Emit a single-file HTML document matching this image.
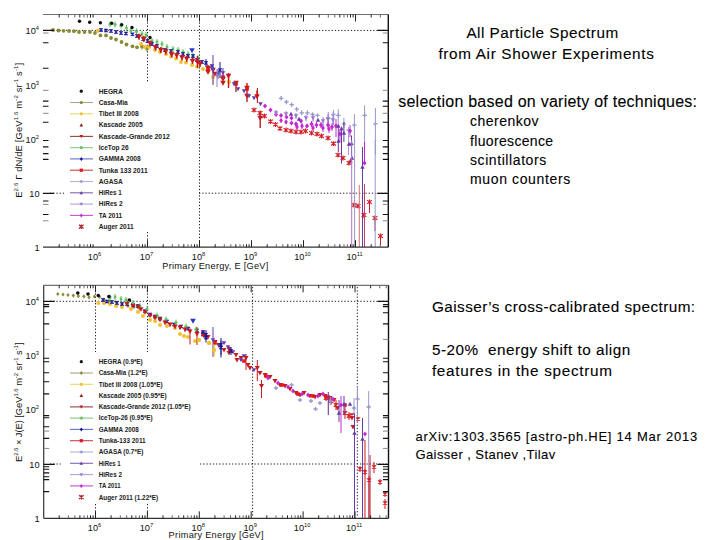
<!DOCTYPE html>
<html><head><meta charset="utf-8"><style>
html,body{margin:0;padding:0;width:720px;height:540px;overflow:hidden;background:#fff}
svg{position:absolute;left:0;top:0}
</style></head><body>
<svg width="720" height="540" viewBox="0 0 720 540" font-family="Liberation Sans, sans-serif">
<defs><filter id="b" x="-5%" y="-5%" width="110%" height="110%"><feGaussianBlur stdDeviation="0.3"/></filter></defs>
<g><path d="M50.0 30.4H386.0" stroke="#222" stroke-width="1" stroke-dasharray="1.3 1.9"/><path d="M50.0 193.2H65.0" stroke="#222" stroke-width="1" stroke-dasharray="1.3 1.9"/><path d="M199.0 193.2H386.0" stroke="#222" stroke-width="1" stroke-dasharray="1.3 1.9"/><path d="M147.5 16.0V83.0" stroke="#222" stroke-width="1" stroke-dasharray="1.3 1.9"/><path d="M147.5 232.0V246.0" stroke="#222" stroke-width="1" stroke-dasharray="1.3 1.9"/><path d="M199.5 16.0V246.0" stroke="#222" stroke-width="1" stroke-dasharray="1.3 1.9"/><path d="M50.0 301.3H387.0" stroke="#222" stroke-width="1" stroke-dasharray="1.3 1.9"/><path d="M50.0 464.0H62.0" stroke="#222" stroke-width="1" stroke-dasharray="1.3 1.9"/><path d="M200.0 464.0H387.0" stroke="#222" stroke-width="1" stroke-dasharray="1.3 1.9"/><path d="M95.5 287.0V352.0" stroke="#222" stroke-width="1" stroke-dasharray="1.3 1.9"/><path d="M95.5 504.0V516.0" stroke="#222" stroke-width="1" stroke-dasharray="1.3 1.9"/><path d="M147.5 287.0V352.0" stroke="#222" stroke-width="1" stroke-dasharray="1.3 1.9"/><path d="M147.5 504.0V516.0" stroke="#222" stroke-width="1" stroke-dasharray="1.3 1.9"/><path d="M252.6 287.0V516.0" stroke="#222" stroke-width="1" stroke-dasharray="1.3 1.9"/><path d="M357.3 287.0V516.0" stroke="#222" stroke-width="1" stroke-dasharray="1.3 1.9"/></g>
<g filter="url(#b)"><circle cx="53.0" cy="30.0" r="1.90" fill="#8a8a38"/><circle cx="58.5" cy="30.5" r="1.90" fill="#8a8a38"/><circle cx="63.5" cy="30.8" r="1.90" fill="#8a8a38"/><circle cx="69.0" cy="31.0" r="1.90" fill="#8a8a38"/><circle cx="74.0" cy="31.2" r="1.90" fill="#8a8a38"/><circle cx="79.0" cy="32.0" r="1.90" fill="#8a8a38"/><circle cx="84.5" cy="32.0" r="1.90" fill="#8a8a38"/><circle cx="90.0" cy="32.0" r="1.90" fill="#8a8a38"/><circle cx="95.0" cy="33.0" r="1.90" fill="#8a8a38"/><circle cx="100.4" cy="35.4" r="1.90" fill="#8a8a38"/><circle cx="106.0" cy="35.4" r="1.90" fill="#8a8a38"/><circle cx="111.0" cy="38.0" r="1.90" fill="#8a8a38"/><circle cx="116.0" cy="39.5" r="1.90" fill="#8a8a38"/><circle cx="121.5" cy="42.0" r="1.90" fill="#8a8a38"/><circle cx="126.5" cy="44.5" r="1.90" fill="#8a8a38"/><circle cx="132.5" cy="46.3" r="1.90" fill="#8a8a38"/><circle cx="137.0" cy="47.3" r="1.90" fill="#8a8a38"/><path d="M142.0 43.5V49.5" stroke="#8a8a38" stroke-width="1.0" fill="none"/><circle cx="142.0" cy="46.5" r="1.90" fill="#8a8a38"/><path d="M147.0 45.5V51.5" stroke="#8a8a38" stroke-width="1.0" fill="none"/><circle cx="147.0" cy="48.5" r="1.90" fill="#8a8a38"/><circle cx="97.8" cy="30.8" r="2.00" fill="#f2c030"/><circle cx="141.0" cy="44.0" r="2.00" fill="#f2c030"/><circle cx="145.0" cy="47.0" r="2.00" fill="#f2c030"/><circle cx="149.0" cy="47.0" r="2.00" fill="#f2c030"/><circle cx="155.0" cy="50.0" r="2.00" fill="#f2c030"/><circle cx="160.0" cy="52.0" r="2.00" fill="#f2c030"/><circle cx="166.0" cy="54.0" r="2.00" fill="#f2c030"/><circle cx="171.0" cy="56.5" r="2.00" fill="#f2c030"/><circle cx="176.0" cy="58.5" r="2.00" fill="#f2c030"/><circle cx="181.0" cy="62.0" r="2.00" fill="#f2c030"/><circle cx="186.0" cy="62.5" r="2.00" fill="#f2c030"/><circle cx="192.0" cy="65.0" r="2.00" fill="#f2c030"/><circle cx="197.0" cy="66.5" r="2.00" fill="#f2c030"/><circle cx="203.0" cy="69.0" r="2.00" fill="#f2c030"/><circle cx="208.0" cy="71.0" r="2.00" fill="#f2c030"/><path d="M213.0 70.0V84.0" stroke="#f2c030" stroke-width="1.0" fill="none"/><circle cx="213.0" cy="77.0" r="2.00" fill="#f2c030"/><path d="M229.0 78.0V86.0" stroke="#f2c030" stroke-width="1.0" fill="none"/><circle cx="229.0" cy="82.0" r="2.00" fill="#f2c030"/><path d="M110.0 21.2V27.2" stroke="#60c060" stroke-width="1.0" fill="none"/><path d="M108.4 24.2H111.6M110.0 22.6V25.8M108.8 23.0L111.2 25.4M108.8 25.4L111.2 23.0" stroke="#60c060" stroke-width="1.0" fill="none"/><path d="M115.0 21.5V27.5" stroke="#60c060" stroke-width="1.0" fill="none"/><path d="M113.4 24.5H116.6M115.0 22.9V26.1M113.8 23.3L116.2 25.7M113.8 25.7L116.2 23.3" stroke="#60c060" stroke-width="1.0" fill="none"/><path d="M121.0 22.5V28.5" stroke="#60c060" stroke-width="1.0" fill="none"/><path d="M119.4 25.5H122.6M121.0 23.9V27.1M119.8 24.3L122.2 26.7M119.8 26.7L122.2 24.3" stroke="#60c060" stroke-width="1.0" fill="none"/><path d="M126.5 25.0V31.0" stroke="#60c060" stroke-width="1.0" fill="none"/><path d="M124.9 28.0H128.1M126.5 26.4V29.6M125.3 26.8L127.7 29.2M125.3 29.2L127.7 26.8" stroke="#60c060" stroke-width="1.0" fill="none"/><path d="M131.0 27.8V33.8" stroke="#60c060" stroke-width="1.0" fill="none"/><path d="M129.4 30.8H132.6M131.0 29.2V32.4M129.8 29.6L132.2 32.0M129.8 32.0L132.2 29.6" stroke="#60c060" stroke-width="1.0" fill="none"/><path d="M136.5 28.5V34.5" stroke="#60c060" stroke-width="1.0" fill="none"/><path d="M134.9 31.5H138.1M136.5 29.9V33.1M135.3 30.3L137.7 32.7M135.3 32.7L137.7 30.3" stroke="#60c060" stroke-width="1.0" fill="none"/><path d="M142.0 31.0V37.0" stroke="#60c060" stroke-width="1.0" fill="none"/><path d="M140.4 34.0H143.6M142.0 32.4V35.6M140.8 32.8L143.2 35.2M140.8 35.2L143.2 32.8" stroke="#60c060" stroke-width="1.0" fill="none"/><path d="M146.0 32.0V38.0" stroke="#60c060" stroke-width="1.0" fill="none"/><path d="M144.4 35.0H147.6M146.0 33.4V36.6M144.8 33.8L147.2 36.2M144.8 36.2L147.2 33.8" stroke="#60c060" stroke-width="1.0" fill="none"/><path d="M152.0 38.0V44.0" stroke="#60c060" stroke-width="1.0" fill="none"/><path d="M150.4 41.0H153.6M152.0 39.4V42.6M150.8 39.8L153.2 42.2M150.8 42.2L153.2 39.8" stroke="#60c060" stroke-width="1.0" fill="none"/><path d="M157.0 39.0V45.0" stroke="#60c060" stroke-width="1.0" fill="none"/><path d="M155.4 42.0H158.6M157.0 40.4V43.6M155.8 40.8L158.2 43.2M155.8 43.2L158.2 40.8" stroke="#60c060" stroke-width="1.0" fill="none"/><path d="M162.0 41.0V47.0" stroke="#60c060" stroke-width="1.0" fill="none"/><path d="M160.4 44.0H163.6M162.0 42.4V45.6M160.8 42.8L163.2 45.2M160.8 45.2L163.2 42.8" stroke="#60c060" stroke-width="1.0" fill="none"/><path d="M167.0 44.0V50.0" stroke="#60c060" stroke-width="1.0" fill="none"/><path d="M165.4 47.0H168.6M167.0 45.4V48.6M165.8 45.8L168.2 48.2M165.8 48.2L168.2 45.8" stroke="#60c060" stroke-width="1.0" fill="none"/><path d="M173.0 46.0V52.0" stroke="#60c060" stroke-width="1.0" fill="none"/><path d="M171.4 49.0H174.6M173.0 47.4V50.6M171.8 47.8L174.2 50.2M171.8 50.2L174.2 47.8" stroke="#60c060" stroke-width="1.0" fill="none"/><path d="M178.0 47.0V53.0" stroke="#60c060" stroke-width="1.0" fill="none"/><path d="M176.4 50.0H179.6M178.0 48.4V51.6M176.8 48.8L179.2 51.2M176.8 51.2L179.2 48.8" stroke="#60c060" stroke-width="1.0" fill="none"/><path d="M183.0 49.0V55.0" stroke="#60c060" stroke-width="1.0" fill="none"/><path d="M181.4 52.0H184.6M183.0 50.4V53.6M181.8 50.8L184.2 53.2M181.8 53.2L184.2 50.8" stroke="#60c060" stroke-width="1.0" fill="none"/><path d="M188.0 51.0V57.0" stroke="#60c060" stroke-width="1.0" fill="none"/><path d="M186.4 54.0H189.6M188.0 52.4V55.6M186.8 52.8L189.2 55.2M186.8 55.2L189.2 52.8" stroke="#60c060" stroke-width="1.0" fill="none"/><path d="M193.0 53.0V59.0" stroke="#60c060" stroke-width="1.0" fill="none"/><path d="M191.4 56.0H194.6M193.0 54.4V57.6M191.8 54.8L194.2 57.2M191.8 57.2L194.2 54.8" stroke="#60c060" stroke-width="1.0" fill="none"/><path d="M198.0 55.0V61.0" stroke="#60c060" stroke-width="1.0" fill="none"/><path d="M196.4 58.0H199.6M198.0 56.4V59.6M196.8 56.8L199.2 59.2M196.8 59.2L199.2 56.8" stroke="#60c060" stroke-width="1.0" fill="none"/><path d="M99.2 28.6H102.8L99.2 31.4H102.8Z" fill="#1a1a96" stroke="#1a1a96" stroke-width="0.7"/><path d="M104.2 29.1H107.8L104.2 31.9H107.8Z" fill="#1a1a96" stroke="#1a1a96" stroke-width="0.7"/><path d="M109.2 29.6H112.8L109.2 32.4H112.8Z" fill="#1a1a96" stroke="#1a1a96" stroke-width="0.7"/><path d="M114.2 30.6H117.8L114.2 33.4H117.8Z" fill="#1a1a96" stroke="#1a1a96" stroke-width="0.7"/><path d="M119.2 31.6H122.8L119.2 34.4H122.8Z" fill="#1a1a96" stroke="#1a1a96" stroke-width="0.7"/><path d="M124.2 32.1H127.8L124.2 34.9H127.8Z" fill="#1a1a96" stroke="#1a1a96" stroke-width="0.7"/><path d="M130.7 32.9H134.3L130.7 35.6H134.3Z" fill="#1a1a96" stroke="#1a1a96" stroke-width="0.7"/><path d="M135.2 34.6H138.8L135.2 37.4H138.8Z" fill="#1a1a96" stroke="#1a1a96" stroke-width="0.7"/><path d="M141.5 37.9H145.1L141.5 40.6H145.1Z" fill="#1a1a96" stroke="#1a1a96" stroke-width="0.7"/><path d="M145.7 39.6H149.3L145.7 42.4H149.3Z" fill="#1a1a96" stroke="#1a1a96" stroke-width="0.7"/><path d="M150.2 42.6H153.8L150.2 45.4H153.8Z" fill="#1a1a96" stroke="#1a1a96" stroke-width="0.7"/><path d="M155.2 44.6H158.8L155.2 47.4H158.8Z" fill="#1a1a96" stroke="#1a1a96" stroke-width="0.7"/><path d="M163.2 48.6H166.8L163.2 51.4H166.8Z" fill="#1a1a96" stroke="#1a1a96" stroke-width="0.7"/><path d="M169.2 49.6H172.8L169.2 52.4H172.8Z" fill="#1a1a96" stroke="#1a1a96" stroke-width="0.7"/><path d="M176.2 50.6H179.8L176.2 53.4H179.8Z" fill="#1a1a96" stroke="#1a1a96" stroke-width="0.7"/><path d="M181.2 52.6H184.8L181.2 55.4H184.8Z" fill="#1a1a96" stroke="#1a1a96" stroke-width="0.7"/><path d="M186.2 54.6H189.8L186.2 57.4H189.8Z" fill="#1a1a96" stroke="#1a1a96" stroke-width="0.7"/><path d="M191.2 54.6H194.8L191.2 57.4H194.8Z" fill="#1a1a96" stroke="#1a1a96" stroke-width="0.7"/><path d="M195.2 58.6H198.8L195.2 61.4H198.8Z" fill="#1a1a96" stroke="#1a1a96" stroke-width="0.7"/><path d="M200.2 60.6H203.8L200.2 63.4H203.8Z" fill="#1a1a96" stroke="#1a1a96" stroke-width="0.7"/><path d="M206.0 59.0V67.0" stroke="#1a1a96" stroke-width="1.0" fill="none"/><path d="M204.2 61.6H207.8L204.2 64.3H207.8Z" fill="#1a1a96" stroke="#1a1a96" stroke-width="0.7"/><path d="M210.2 64.7H213.8L210.2 67.3H213.8Z" fill="#1a1a96" stroke="#1a1a96" stroke-width="0.7"/><path d="M220.0 62.0V78.0" stroke="#1a1a96" stroke-width="1.0" fill="none"/><path d="M218.2 68.7H221.8L218.2 71.3H221.8Z" fill="#1a1a96" stroke="#1a1a96" stroke-width="0.7"/><path d="M139.0 33.7V39.7" stroke="#c41a1e" stroke-width="1.4" fill="none"/><path d="M139.0 39.5L141.8 34.5L136.2 34.5Z" fill="#c41a1e"/><path d="M143.8 36.0V42.0" stroke="#c41a1e" stroke-width="1.4" fill="none"/><path d="M143.8 41.8L146.6 36.8L141.0 36.8Z" fill="#c41a1e"/><path d="M150.0 40.5V46.5" stroke="#c41a1e" stroke-width="1.4" fill="none"/><path d="M150.0 46.3L152.8 41.3L147.2 41.3Z" fill="#c41a1e"/><path d="M155.5 44.5V50.5" stroke="#c41a1e" stroke-width="1.4" fill="none"/><path d="M155.5 50.3L158.3 45.3L152.7 45.3Z" fill="#c41a1e"/><path d="M160.8 47.0V53.0" stroke="#c41a1e" stroke-width="1.4" fill="none"/><path d="M160.8 52.8L163.6 47.8L158.0 47.8Z" fill="#c41a1e"/><path d="M165.8 48.5V54.5" stroke="#c41a1e" stroke-width="1.4" fill="none"/><path d="M165.8 54.3L168.6 49.3L163.0 49.3Z" fill="#c41a1e"/><path d="M171.7 51.5V57.5" stroke="#c41a1e" stroke-width="1.4" fill="none"/><path d="M171.7 57.3L174.5 52.3L168.9 52.3Z" fill="#c41a1e"/><path d="M176.7 52.5V58.5" stroke="#c41a1e" stroke-width="1.4" fill="none"/><path d="M176.7 58.3L179.5 53.3L173.9 53.3Z" fill="#c41a1e"/><path d="M182.0 54.5V60.5" stroke="#c41a1e" stroke-width="1.4" fill="none"/><path d="M182.0 60.3L184.8 55.3L179.2 55.3Z" fill="#c41a1e"/><path d="M186.7 55.7V61.7" stroke="#c41a1e" stroke-width="1.4" fill="none"/><path d="M186.7 61.5L189.5 56.5L183.9 56.5Z" fill="#c41a1e"/><path d="M192.5 58.0V64.0" stroke="#c41a1e" stroke-width="1.4" fill="none"/><path d="M192.5 63.8L195.3 58.8L189.7 58.8Z" fill="#c41a1e"/><path d="M197.5 56.0V68.0" stroke="#c41a1e" stroke-width="1.4" fill="none"/><path d="M197.5 64.8L200.3 59.8L194.7 59.8Z" fill="#c41a1e"/><path d="M200.0 61.0V67.0" stroke="#c41a1e" stroke-width="1.4" fill="none"/><path d="M200.0 66.8L202.8 61.8L197.2 61.8Z" fill="#c41a1e"/><path d="M208.0 65.0V71.0" stroke="#c41a1e" stroke-width="1.4" fill="none"/><path d="M208.0 70.8L210.8 65.8L205.2 65.8Z" fill="#c41a1e"/><path d="M208.0 74.8L210.8 69.8L205.2 69.8Z" fill="#c41a1e"/><path d="M213.0 72.8L215.8 67.8L210.2 67.8Z" fill="#c41a1e"/><path d="M215.0 76.8L217.8 71.8L212.2 71.8Z" fill="#c41a1e"/><path d="M223.0 81.8L225.8 76.8L220.2 76.8Z" fill="#c41a1e"/><path d="M223.0 85.8L225.8 80.8L220.2 80.8Z" fill="#c41a1e"/><path d="M228.5 73.0V88.0" stroke="#c41a1e" stroke-width="1.4" fill="none"/><path d="M228.5 78.8L231.3 73.8L225.7 73.8Z" fill="#c41a1e"/><path d="M236.0 81.0V92.0" stroke="#c41a1e" stroke-width="1.4" fill="none"/><path d="M236.0 85.8L238.8 80.8L233.2 80.8Z" fill="#c41a1e"/><path d="M247.0 83.0V102.0" stroke="#c41a1e" stroke-width="1.4" fill="none"/><path d="M247.0 90.8L249.8 85.8L244.2 85.8Z" fill="#c41a1e"/><path d="M247.0 98.8L249.8 93.8L244.2 93.8Z" fill="#c41a1e"/><path d="M257.0 90.5V96.5" stroke="#c41a1e" stroke-width="1.4" fill="none"/><path d="M257.0 99.3L259.8 94.3L254.2 94.3Z" fill="#c41a1e"/><path d="M260.2 111.0V128.0" stroke="#c41a1e" stroke-width="1.4" fill="none"/><path d="M260.2 120.8L263.0 115.8L257.4 115.8Z" fill="#c41a1e"/><rect x="206.2" y="67.2" width="3.6" height="3.6" fill="#d81c1c"/><rect x="221.2" y="75.2" width="3.6" height="3.6" fill="#d81c1c"/><rect x="234.2" y="82.2" width="3.6" height="3.6" fill="#d81c1c"/><rect x="245.2" y="87.2" width="3.6" height="3.6" fill="#d81c1c"/><path d="M192.0 53.3L194.8 48.3L189.2 48.3Z" fill="#2838c8"/><circle cx="79.5" cy="21.2" r="1.70" fill="#111"/><circle cx="89.7" cy="22.2" r="1.70" fill="#111"/><circle cx="100.4" cy="22.7" r="1.70" fill="#111"/><circle cx="111.7" cy="23.3" r="1.70" fill="#111"/><circle cx="121.7" cy="24.8" r="1.70" fill="#111"/><circle cx="132.0" cy="27.5" r="1.70" fill="#111"/><circle cx="150.0" cy="37.5" r="1.70" fill="#111"/><path d="M213.0 55.0V85.0" stroke="#6a3aa8" stroke-width="1.0" fill="none"/><path d="M213.0 72.2L215.2 68.3L210.8 68.3Z" fill="#6a3aa8"/><path d="M218.0 69.0V79.0" stroke="#6a3aa8" stroke-width="1.0" fill="none"/><path d="M218.0 76.2L220.2 72.3L215.8 72.3Z" fill="#6a3aa8"/><path d="M223.0 68.0V78.0" stroke="#6a3aa8" stroke-width="1.0" fill="none"/><path d="M223.0 75.2L225.2 71.3L220.8 71.3Z" fill="#6a3aa8"/><path d="M234.0 86.2L236.2 82.3L231.8 82.3Z" fill="#6a3aa8"/><path d="M238.0 91.2L240.2 87.3L235.8 87.3Z" fill="#6a3aa8"/><path d="M244.0 93.2L246.2 89.3L241.8 89.3Z" fill="#6a3aa8"/><path d="M249.0 98.2L251.2 94.3L246.8 94.3Z" fill="#6a3aa8"/><path d="M254.0 100.2L256.2 96.3L251.8 96.3Z" fill="#6a3aa8"/><path d="M260.5 106.2L262.7 102.3L258.3 102.3Z" fill="#6a3aa8"/><path d="M217.0 69.0V87.0" stroke="#9c78d0" stroke-width="1.0" fill="none"/><path d="M217.0 72.8L218.8 75.0L217.0 77.2L215.2 75.0Z" fill="#9c78d0"/><path d="M257.4 88.0V103.0" stroke="#c41a1e" stroke-width="1.1" fill="none"/><path d="M278.9 98.3H283.3M281.1 96.1V100.5" stroke="#9898cc" stroke-width="1.3" fill="none"/><path d="M284.2 102.0H288.6M286.4 99.8V104.2" stroke="#9898cc" stroke-width="1.3" fill="none"/><path d="M289.5 104.7H293.9M291.7 102.5V106.9" stroke="#9898cc" stroke-width="1.3" fill="none"/><path d="M294.5 109.2H298.9M296.7 107.0V111.4" stroke="#9898cc" stroke-width="1.3" fill="none"/><path d="M299.5 112.8H303.9M301.7 110.6V115.0" stroke="#9898cc" stroke-width="1.3" fill="none"/><path d="M305.2 112.8H309.6M307.4 110.6V115.0" stroke="#9898cc" stroke-width="1.3" fill="none"/><path d="M310.3 114.4H314.7M312.5 112.2V116.6" stroke="#9898cc" stroke-width="1.3" fill="none"/><path d="M315.3 115.4H319.7M317.5 113.2V117.6" stroke="#9898cc" stroke-width="1.3" fill="none"/><path d="M328.3 112.0V125.0" stroke="#9898cc" stroke-width="1.0" fill="none"/><path d="M326.1 118.5H330.5M328.3 116.3V120.7" stroke="#9898cc" stroke-width="1.3" fill="none"/><path d="M333.4 110.0V125.0" stroke="#9898cc" stroke-width="1.0" fill="none"/><path d="M331.2 114.5H335.6M333.4 112.3V116.7" stroke="#9898cc" stroke-width="1.3" fill="none"/><path d="M338.3 109.3V125.3" stroke="#9898cc" stroke-width="1.0" fill="none"/><path d="M336.1 115.3H340.5M338.3 113.1V117.5" stroke="#9898cc" stroke-width="1.3" fill="none"/><path d="M343.9 117.9V127.9" stroke="#9898cc" stroke-width="1.0" fill="none"/><path d="M341.7 123.9H346.1M343.9 121.7V126.1" stroke="#9898cc" stroke-width="1.3" fill="none"/><path d="M348.6 127.0V155.0" stroke="#9898cc" stroke-width="1.0" fill="none"/><path d="M346.4 130.0H350.8M348.6 127.8V132.2" stroke="#9898cc" stroke-width="1.3" fill="none"/><path d="M354.4 114.2V145.2" stroke="#9898cc" stroke-width="1.0" fill="none"/><path d="M352.2 125.2H356.6M354.4 123.0V127.4" stroke="#9898cc" stroke-width="1.3" fill="none"/><path d="M364.6 105.3V150.3" stroke="#9898cc" stroke-width="1.0" fill="none"/><path d="M362.4 115.3H366.8M364.6 113.1V117.5" stroke="#9898cc" stroke-width="1.3" fill="none"/><path d="M375.4 107.9V154.9" stroke="#9898cc" stroke-width="1.0" fill="none"/><path d="M373.2 123.9H377.6M375.4 121.7V126.1" stroke="#9898cc" stroke-width="1.3" fill="none"/><path d="M265.0 103.4L267.1 106.0L265.0 108.6L262.9 106.0Z" fill="#c828d0"/><path d="M270.5 107.4L272.6 110.0L270.5 112.6L268.4 110.0Z" fill="#c828d0"/><path d="M276.0 111.9L278.1 114.5L276.0 117.1L273.9 114.5Z" fill="#c828d0"/><path d="M281.0 112.9L283.1 115.5L281.0 118.1L278.9 115.5Z" fill="#c828d0"/><path d="M286.5 114.4L288.6 117.0L286.5 119.6L284.4 117.0Z" fill="#c828d0"/><path d="M291.5 115.4L293.6 118.0L291.5 120.6L289.4 118.0Z" fill="#c828d0"/><path d="M291.5 120.4L293.6 123.0L291.5 125.6L289.4 123.0Z" fill="#c828d0"/><path d="M296.0 122.0V126.0" stroke="#c828d0" stroke-width="1.0" fill="none"/><path d="M296.0 121.4L298.1 124.0L296.0 126.6L293.9 124.0Z" fill="#c828d0"/><path d="M301.0 119.0V123.0" stroke="#c828d0" stroke-width="1.0" fill="none"/><path d="M301.0 118.4L303.1 121.0L301.0 123.6L298.9 121.0Z" fill="#c828d0"/><path d="M307.0 124.0V128.0" stroke="#c828d0" stroke-width="1.0" fill="none"/><path d="M307.0 123.4L309.1 126.0L307.0 128.6L304.9 126.0Z" fill="#c828d0"/><path d="M311.5 121.0V127.0" stroke="#c828d0" stroke-width="1.0" fill="none"/><path d="M311.5 121.4L313.6 124.0L311.5 126.6L309.4 124.0Z" fill="#c828d0"/><path d="M316.5 122.0V128.0" stroke="#c828d0" stroke-width="1.0" fill="none"/><path d="M316.5 122.4L318.6 125.0L316.5 127.6L314.4 125.0Z" fill="#c828d0"/><path d="M321.0 122.0V128.0" stroke="#c828d0" stroke-width="1.0" fill="none"/><path d="M321.0 122.4L323.1 125.0L321.0 127.6L318.9 125.0Z" fill="#c828d0"/><path d="M328.0 121.0V129.0" stroke="#c828d0" stroke-width="1.0" fill="none"/><path d="M328.0 122.4L330.1 125.0L328.0 127.6L325.9 125.0Z" fill="#c828d0"/><path d="M332.0 123.0V131.0" stroke="#c828d0" stroke-width="1.0" fill="none"/><path d="M332.0 124.4L334.1 127.0L332.0 129.6L329.9 127.0Z" fill="#c828d0"/><path d="M336.0 119.0V137.0" stroke="#c828d0" stroke-width="1.0" fill="none"/><path d="M336.0 123.4L338.1 126.0L336.0 128.6L333.9 126.0Z" fill="#c828d0"/><path d="M340.0 129.0V142.0" stroke="#c828d0" stroke-width="1.0" fill="none"/><path d="M340.0 131.4L342.1 134.0L340.0 136.6L337.9 134.0Z" fill="#c828d0"/><path d="M350.0 125.0V137.0" stroke="#c828d0" stroke-width="1.0" fill="none"/><path d="M350.0 128.4L352.1 131.0L350.0 133.6L347.9 131.0Z" fill="#c828d0"/><path d="M364.5 142.0V163.0" stroke="#c828d0" stroke-width="1.0" fill="none"/><path d="M364.5 160.4L366.6 163.0L364.5 165.6L362.4 163.0Z" fill="#c828d0"/><path d="M281.0 118.5V122.5" stroke="#c828d0" stroke-width="1.0" fill="none"/><path d="M281.0 118.1L282.9 120.5L281.0 122.9L279.1 120.5Z" fill="#c828d0"/><path d="M286.0 120.0V124.0" stroke="#c828d0" stroke-width="1.0" fill="none"/><path d="M286.0 119.6L287.9 122.0L286.0 124.4L284.1 122.0Z" fill="#c828d0"/><path d="M297.0 124.0V130.0" stroke="#c828d0" stroke-width="1.0" fill="none"/><path d="M297.0 124.6L298.9 127.0L297.0 129.4L295.1 127.0Z" fill="#c828d0"/><path d="M302.0 123.0V129.0" stroke="#c828d0" stroke-width="1.0" fill="none"/><path d="M302.0 123.6L303.9 126.0L302.0 128.4L300.1 126.0Z" fill="#c828d0"/><path d="M313.0 125.0V131.0" stroke="#c828d0" stroke-width="1.0" fill="none"/><path d="M313.0 125.6L314.9 128.0L313.0 130.4L311.1 128.0Z" fill="#c828d0"/><path d="M323.0 124.0V132.0" stroke="#c828d0" stroke-width="1.0" fill="none"/><path d="M323.0 125.6L324.9 128.0L323.0 130.4L321.1 128.0Z" fill="#c828d0"/><path d="M329.0 125.0V133.0" stroke="#c828d0" stroke-width="1.0" fill="none"/><path d="M329.0 126.6L330.9 129.0L329.0 131.4L327.1 129.0Z" fill="#c828d0"/><path d="M276.0 110.0V116.0" stroke="#9c78d0" stroke-width="1.0" fill="none"/><path d="M276.0 115.2L278.2 111.3L273.8 111.3Z" fill="#9c78d0"/><path d="M286.0 111.0V117.0" stroke="#9c78d0" stroke-width="1.0" fill="none"/><path d="M286.0 116.2L288.2 112.3L283.8 112.3Z" fill="#9c78d0"/><path d="M296.0 113.0V119.0" stroke="#9c78d0" stroke-width="1.0" fill="none"/><path d="M296.0 118.2L298.2 114.3L293.8 114.3Z" fill="#9c78d0"/><path d="M306.0 115.0V121.0" stroke="#9c78d0" stroke-width="1.0" fill="none"/><path d="M306.0 120.2L308.2 116.3L303.8 116.3Z" fill="#9c78d0"/><path d="M313.0 114.0V122.0" stroke="#9c78d0" stroke-width="1.0" fill="none"/><path d="M313.0 120.2L315.2 116.3L310.8 116.3Z" fill="#9c78d0"/><path d="M323.0 117.0V125.0" stroke="#9c78d0" stroke-width="1.0" fill="none"/><path d="M323.0 123.2L325.2 119.3L320.8 119.3Z" fill="#9c78d0"/><path d="M328.0 114.0V124.0" stroke="#9c78d0" stroke-width="1.0" fill="none"/><path d="M328.0 121.2L330.2 117.3L325.8 117.3Z" fill="#9c78d0"/><path d="M333.0 115.0V125.0" stroke="#9c78d0" stroke-width="1.0" fill="none"/><path d="M333.0 122.2L335.2 118.3L330.8 118.3Z" fill="#9c78d0"/><path d="M291.0 111.8L293.2 115.7L288.8 115.7Z" fill="#6a3aa8"/><path d="M299.0 116.8L301.2 120.7L296.8 120.7Z" fill="#6a3aa8"/><path d="M318.0 117.8L320.2 121.7L315.8 121.7Z" fill="#6a3aa8"/><path d="M338.3 126.0V152.0" stroke="#6a3aa8" stroke-width="1.0" fill="none"/><path d="M338.3 123.8L340.5 127.7L336.1 127.7Z" fill="#6a3aa8"/><path d="M341.5 128.5V163.5" stroke="#6a3aa8" stroke-width="1.0" fill="none"/><path d="M341.5 126.3L343.7 130.2L339.3 130.2Z" fill="#6a3aa8"/><path d="M343.9 122.0V142.0" stroke="#6a3aa8" stroke-width="1.0" fill="none"/><path d="M343.9 130.8L346.1 134.7L341.7 134.7Z" fill="#6a3aa8"/><path d="M338.5 138.8L340.7 142.7L336.3 142.7Z" fill="#6a3aa8"/><path d="M349.0 141.8L351.2 145.7L346.8 145.7Z" fill="#6a3aa8"/><path d="M351.5 135.5V155.5" stroke="#6a3aa8" stroke-width="1.0" fill="none"/><path d="M351.5 141.3L353.7 145.2L349.3 145.2Z" fill="#6a3aa8"/><path d="M352.0 155.8L354.2 159.7L349.8 159.7Z" fill="#6a3aa8"/><path d="M350.5 158.8L352.7 162.7L348.3 162.7Z" fill="#6a3aa8"/><path d="M362.5 147.0V247.0" stroke="#6a3aa8" stroke-width="1.0" fill="none"/><path d="M362.5 164.8L364.7 168.7L360.3 168.7Z" fill="#6a3aa8"/><path d="M251.6 108.1L256.4 111.9M251.6 111.9L256.4 108.1M254.0 107.6V112.4" stroke="#d41c24" stroke-width="1.2" fill="none"/><path d="M257.6 111.1L262.4 114.9M257.6 114.9L262.4 111.1M260.0 110.6V115.4" stroke="#d41c24" stroke-width="1.2" fill="none"/><path d="M262.1 114.1L266.9 117.9M262.1 117.9L266.9 114.1M264.5 113.6V118.4" stroke="#d41c24" stroke-width="1.2" fill="none"/><path d="M268.1 119.6L272.9 123.4M268.1 123.4L272.9 119.6M270.5 119.1V123.9" stroke="#d41c24" stroke-width="1.2" fill="none"/><path d="M273.1 122.6L277.9 126.4M273.1 126.4L277.9 122.6M275.5 122.1V126.9" stroke="#d41c24" stroke-width="1.2" fill="none"/><path d="M277.6 126.6L282.4 130.4M277.6 130.4L282.4 126.6M280.0 126.1V130.9" stroke="#d41c24" stroke-width="1.2" fill="none"/><path d="M283.6 128.1L288.4 131.9M283.6 131.9L288.4 128.1M286.0 127.6V132.4" stroke="#d41c24" stroke-width="1.2" fill="none"/><path d="M288.6 129.1L293.4 132.9M288.6 132.9L293.4 129.1M291.0 128.6V133.4" stroke="#d41c24" stroke-width="1.2" fill="none"/><path d="M293.6 130.1L298.4 133.9M293.6 133.9L298.4 130.1M296.0 129.6V134.4" stroke="#d41c24" stroke-width="1.2" fill="none"/><path d="M298.6 130.1L303.4 133.9M298.6 133.9L303.4 130.1M301.0 129.6V134.4" stroke="#d41c24" stroke-width="1.2" fill="none"/><path d="M303.1 129.1L307.9 132.9M303.1 132.9L307.9 129.1M305.5 128.6V133.4" stroke="#d41c24" stroke-width="1.2" fill="none"/><path d="M309.1 131.1L313.9 134.9M309.1 134.9L313.9 131.1M311.5 130.6V135.4" stroke="#d41c24" stroke-width="1.2" fill="none"/><path d="M314.6 132.1L319.4 135.9M314.6 135.9L319.4 132.1M317.0 131.6V136.4" stroke="#d41c24" stroke-width="1.2" fill="none"/><path d="M319.1 134.1L323.9 137.9M319.1 137.9L323.9 134.1M321.5 133.6V138.4" stroke="#d41c24" stroke-width="1.2" fill="none"/><path d="M325.6 136.1L330.4 139.9M325.6 139.9L330.4 136.1M328.0 135.6V140.4" stroke="#d41c24" stroke-width="1.2" fill="none"/><path d="M331.1 141.7L335.9 145.5M331.1 145.5L335.9 141.7M333.5 141.2V146.0" stroke="#d41c24" stroke-width="1.2" fill="none"/><path d="M335.6 153.1L340.4 156.9M335.6 156.9L340.4 153.1M338.0 152.6V157.4" stroke="#d41c24" stroke-width="1.2" fill="none"/><path d="M340.6 156.1L345.4 159.9M340.6 159.9L345.4 156.1M343.0 155.6V160.4" stroke="#d41c24" stroke-width="1.2" fill="none"/><path d="M346.6 161.1L351.4 164.9M346.6 164.9L351.4 161.1M349.0 160.6V165.4" stroke="#d41c24" stroke-width="1.2" fill="none"/><path d="M351.6 203.1L356.4 206.9M351.6 206.9L356.4 203.1M354.0 202.6V207.4" stroke="#d41c24" stroke-width="1.2" fill="none"/><path d="M355.6 204.1L360.4 207.9M355.6 207.9L360.4 204.1M358.0 203.6V208.4" stroke="#d41c24" stroke-width="1.2" fill="none"/><path d="M364.0 213.0V218.0" stroke="#d41c24" stroke-width="1.0" fill="none"/><path d="M361.6 213.1L366.4 216.9M361.6 216.9L366.4 213.1M364.0 212.6V217.4" stroke="#d41c24" stroke-width="1.2" fill="none"/><path d="M369.5 201.0V213.0" stroke="#d41c24" stroke-width="1.0" fill="none"/><path d="M367.1 200.1L371.9 203.9M367.1 203.9L371.9 200.1M369.5 199.6V204.4" stroke="#d41c24" stroke-width="1.2" fill="none"/><path d="M375.0 217.0V231.0" stroke="#d41c24" stroke-width="1.0" fill="none"/><path d="M372.6 216.1L377.4 219.9M372.6 219.9L377.4 216.1M375.0 215.6V220.4" stroke="#d41c24" stroke-width="1.2" fill="none"/><path d="M380.5 235.0V245.0" stroke="#d41c24" stroke-width="1.0" fill="none"/><path d="M378.1 234.1L382.9 237.9M378.1 237.9L382.9 234.1M380.5 233.6V238.4" stroke="#d41c24" stroke-width="1.2" fill="none"/><path d="M57.8 291.9L59.5 294.0L57.8 296.1L56.1 294.0Z" fill="#8a8a38"/><path d="M63.0 292.4L64.7 294.5L63.0 296.6L61.3 294.5Z" fill="#8a8a38"/><path d="M68.0 292.9L69.7 295.0L68.0 297.1L66.3 295.0Z" fill="#8a8a38"/><path d="M73.3 293.5L75.0 295.6L73.3 297.7L71.6 295.6Z" fill="#8a8a38"/><path d="M78.3 294.0L80.0 296.1L78.3 298.2L76.6 296.1Z" fill="#8a8a38"/><path d="M83.9 294.3L85.6 296.4L83.9 298.5L82.2 296.4Z" fill="#8a8a38"/><path d="M89.0 295.2L90.7 297.3L89.0 299.4L87.3 297.3Z" fill="#8a8a38"/><path d="M94.4 294.4L96.1 296.5L94.4 298.6L92.7 296.5Z" fill="#8a8a38"/><path d="M99.5 294.9L101.2 297.0L99.5 299.1L97.8 297.0Z" fill="#8a8a38"/><path d="M104.0 297.4L105.7 299.5L104.0 301.6L102.3 299.5Z" fill="#8a8a38"/><path d="M110.0 298.9L111.7 301.0L110.0 303.1L108.3 301.0Z" fill="#8a8a38"/><path d="M116.0 299.9L117.7 302.0L116.0 304.1L114.3 302.0Z" fill="#8a8a38"/><path d="M122.0 301.9L123.7 304.0L122.0 306.1L120.3 304.0Z" fill="#8a8a38"/><path d="M128.0 303.9L129.7 306.0L128.0 308.1L126.3 306.0Z" fill="#8a8a38"/><path d="M134.0 304.9L135.7 307.0L134.0 309.1L132.3 307.0Z" fill="#8a8a38"/><path d="M140.0 306.9L141.7 309.0L140.0 311.1L138.3 309.0Z" fill="#8a8a38"/><circle cx="98.3" cy="303.0" r="2.00" fill="#f2c030"/><circle cx="104.0" cy="303.0" r="2.00" fill="#f2c030"/><circle cx="110.0" cy="304.0" r="2.00" fill="#f2c030"/><circle cx="116.0" cy="306.0" r="2.00" fill="#f2c030"/><circle cx="122.0" cy="307.0" r="2.00" fill="#f2c030"/><circle cx="131.0" cy="309.0" r="2.00" fill="#f2c030"/><circle cx="138.0" cy="312.0" r="2.00" fill="#f2c030"/><circle cx="143.0" cy="316.0" r="2.00" fill="#f2c030"/><circle cx="150.0" cy="320.0" r="2.00" fill="#f2c030"/><circle cx="155.0" cy="321.0" r="2.00" fill="#f2c030"/><circle cx="160.0" cy="325.0" r="2.00" fill="#f2c030"/><circle cx="167.0" cy="326.0" r="2.00" fill="#f2c030"/><circle cx="175.0" cy="328.0" r="2.00" fill="#f2c030"/><circle cx="180.0" cy="334.0" r="2.00" fill="#f2c030"/><circle cx="184.0" cy="336.0" r="2.00" fill="#f2c030"/><circle cx="188.0" cy="337.0" r="2.00" fill="#f2c030"/><circle cx="195.0" cy="341.0" r="2.00" fill="#f2c030"/><circle cx="199.0" cy="340.0" r="2.00" fill="#f2c030"/><circle cx="209.0" cy="343.0" r="2.00" fill="#f2c030"/><path d="M214.0 344.0V356.0" stroke="#f2c030" stroke-width="1.0" fill="none"/><circle cx="214.0" cy="350.0" r="2.00" fill="#f2c030"/><path d="M101.2 298.6H104.8L101.2 301.4H104.8Z" fill="#1a1a96" stroke="#1a1a96" stroke-width="0.7"/><path d="M105.2 300.1H108.8L105.2 302.9H108.8Z" fill="#1a1a96" stroke="#1a1a96" stroke-width="0.7"/><path d="M110.2 300.6H113.8L110.2 303.4H113.8Z" fill="#1a1a96" stroke="#1a1a96" stroke-width="0.7"/><path d="M115.2 301.6H118.8L115.2 304.4H118.8Z" fill="#1a1a96" stroke="#1a1a96" stroke-width="0.7"/><path d="M120.2 302.6H123.8L120.2 305.4H123.8Z" fill="#1a1a96" stroke="#1a1a96" stroke-width="0.7"/><path d="M125.2 302.6H128.8L125.2 305.4H128.8Z" fill="#1a1a96" stroke="#1a1a96" stroke-width="0.7"/><path d="M131.2 303.6H134.8L131.2 306.4H134.8Z" fill="#1a1a96" stroke="#1a1a96" stroke-width="0.7"/><path d="M136.2 304.6H139.8L136.2 307.4H139.8Z" fill="#1a1a96" stroke="#1a1a96" stroke-width="0.7"/><path d="M143.2 309.8H146.8L143.2 312.6H146.8Z" fill="#1a1a96" stroke="#1a1a96" stroke-width="0.7"/><path d="M148.2 313.1H151.8L148.2 315.9H151.8Z" fill="#1a1a96" stroke="#1a1a96" stroke-width="0.7"/><path d="M153.2 315.1H156.8L153.2 317.9H156.8Z" fill="#1a1a96" stroke="#1a1a96" stroke-width="0.7"/><path d="M158.2 317.1H161.8L158.2 319.9H161.8Z" fill="#1a1a96" stroke="#1a1a96" stroke-width="0.7"/><path d="M165.2 320.1H168.8L165.2 322.9H168.8Z" fill="#1a1a96" stroke="#1a1a96" stroke-width="0.7"/><path d="M172.2 323.1H175.8L172.2 325.9H175.8Z" fill="#1a1a96" stroke="#1a1a96" stroke-width="0.7"/><path d="M179.2 325.1H182.8L179.2 327.9H182.8Z" fill="#1a1a96" stroke="#1a1a96" stroke-width="0.7"/><path d="M186.2 327.1H189.8L186.2 329.9H189.8Z" fill="#1a1a96" stroke="#1a1a96" stroke-width="0.7"/><path d="M195.2 329.1H198.8L195.2 331.9H198.8Z" fill="#1a1a96" stroke="#1a1a96" stroke-width="0.7"/><path d="M201.2 333.1H204.8L201.2 335.9H204.8Z" fill="#1a1a96" stroke="#1a1a96" stroke-width="0.7"/><path d="M206.0 332.5V342.5" stroke="#1a1a96" stroke-width="1.0" fill="none"/><path d="M204.2 336.1H207.8L204.2 338.9H207.8Z" fill="#1a1a96" stroke="#1a1a96" stroke-width="0.7"/><path d="M221.0 340.5V357.5" stroke="#1a1a96" stroke-width="1.0" fill="none"/><path d="M219.2 346.1H222.8L219.2 348.9H222.8Z" fill="#1a1a96" stroke="#1a1a96" stroke-width="0.7"/><path d="M110.0 294.5V300.5" stroke="#60c060" stroke-width="1.0" fill="none"/><path d="M108.4 297.5H111.6M110.0 295.9V299.1M108.8 296.3L111.2 298.7M108.8 298.7L111.2 296.3" stroke="#60c060" stroke-width="1.0" fill="none"/><path d="M115.0 294.0V300.0" stroke="#60c060" stroke-width="1.0" fill="none"/><path d="M113.4 297.0H116.6M115.0 295.4V298.6M113.8 295.8L116.2 298.2M113.8 298.2L116.2 295.8" stroke="#60c060" stroke-width="1.0" fill="none"/><path d="M121.0 296.0V302.0" stroke="#60c060" stroke-width="1.0" fill="none"/><path d="M119.4 299.0H122.6M121.0 297.4V300.6M119.8 297.8L122.2 300.2M119.8 300.2L122.2 297.8" stroke="#60c060" stroke-width="1.0" fill="none"/><path d="M126.0 297.0V303.0" stroke="#60c060" stroke-width="1.0" fill="none"/><path d="M124.4 300.0H127.6M126.0 298.4V301.6M124.8 298.8L127.2 301.2M124.8 301.2L127.2 298.8" stroke="#60c060" stroke-width="1.0" fill="none"/><path d="M133.0 300.0V306.0" stroke="#60c060" stroke-width="1.0" fill="none"/><path d="M131.4 303.0H134.6M133.0 301.4V304.6M131.8 301.8L134.2 304.2M131.8 304.2L134.2 301.8" stroke="#60c060" stroke-width="1.0" fill="none"/><path d="M140.0 303.2V309.2" stroke="#60c060" stroke-width="1.0" fill="none"/><path d="M138.4 306.2H141.6M140.0 304.6V307.8M138.8 305.0L141.2 307.4M138.8 307.4L141.2 305.0" stroke="#60c060" stroke-width="1.0" fill="none"/><path d="M147.0 306.2V312.2" stroke="#60c060" stroke-width="1.0" fill="none"/><path d="M145.4 309.2H148.6M147.0 307.6V310.8M145.8 308.0L148.2 310.4M145.8 310.4L148.2 308.0" stroke="#60c060" stroke-width="1.0" fill="none"/><path d="M157.0 312.5V318.5" stroke="#60c060" stroke-width="1.0" fill="none"/><path d="M155.4 315.5H158.6M157.0 313.9V317.1M155.8 314.3L158.2 316.7M155.8 316.7L158.2 314.3" stroke="#60c060" stroke-width="1.0" fill="none"/><path d="M166.0 316.5V322.5" stroke="#60c060" stroke-width="1.0" fill="none"/><path d="M164.4 319.5H167.6M166.0 317.9V321.1M164.8 318.3L167.2 320.7M164.8 320.7L167.2 318.3" stroke="#60c060" stroke-width="1.0" fill="none"/><path d="M176.0 319.5V325.5" stroke="#60c060" stroke-width="1.0" fill="none"/><path d="M174.4 322.5H177.6M176.0 320.9V324.1M174.8 321.3L177.2 323.7M174.8 323.7L177.2 321.3" stroke="#60c060" stroke-width="1.0" fill="none"/><path d="M186.0 323.5V329.5" stroke="#60c060" stroke-width="1.0" fill="none"/><path d="M184.4 326.5H187.6M186.0 324.9V328.1M184.8 325.3L187.2 327.7M184.8 327.7L187.2 325.3" stroke="#60c060" stroke-width="1.0" fill="none"/><path d="M196.0 326.5V332.5" stroke="#60c060" stroke-width="1.0" fill="none"/><path d="M194.4 329.5H197.6M196.0 327.9V331.1M194.8 328.3L197.2 330.7M194.8 330.7L197.2 328.3" stroke="#60c060" stroke-width="1.0" fill="none"/><circle cx="77.8" cy="293.0" r="1.80" fill="#111"/><circle cx="88.0" cy="294.0" r="1.80" fill="#111"/><circle cx="98.3" cy="295.5" r="1.80" fill="#111"/><circle cx="108.9" cy="296.6" r="1.80" fill="#111"/><circle cx="129.4" cy="300.0" r="1.80" fill="#111"/><path d="M127.0 306.5L129.5 302.0L124.5 302.0Z" fill="#c41a1e"/><path d="M133.0 308.5L135.5 304.0L130.5 304.0Z" fill="#c41a1e"/><path d="M138.0 309.5L140.5 305.0L135.5 305.0Z" fill="#c41a1e"/><path d="M141.0 311.7L143.5 307.2L138.5 307.2Z" fill="#c41a1e"/><path d="M145.0 314.7L147.5 310.2L142.5 310.2Z" fill="#c41a1e"/><path d="M150.0 318.0L152.5 313.5L147.5 313.5Z" fill="#c41a1e"/><path d="M155.0 315.5V319.5" stroke="#c41a1e" stroke-width="1.0" fill="none"/><path d="M155.0 320.0L157.5 315.5L152.5 315.5Z" fill="#c41a1e"/><path d="M160.0 317.5V321.5" stroke="#c41a1e" stroke-width="1.0" fill="none"/><path d="M160.0 322.0L162.5 317.5L157.5 317.5Z" fill="#c41a1e"/><path d="M165.0 320.5V324.5" stroke="#c41a1e" stroke-width="1.0" fill="none"/><path d="M165.0 325.0L167.5 320.5L162.5 320.5Z" fill="#c41a1e"/><path d="M170.0 322.5V326.5" stroke="#c41a1e" stroke-width="1.0" fill="none"/><path d="M170.0 327.0L172.5 322.5L167.5 322.5Z" fill="#c41a1e"/><path d="M175.0 324.5V328.5" stroke="#c41a1e" stroke-width="1.0" fill="none"/><path d="M175.0 329.0L177.5 324.5L172.5 324.5Z" fill="#c41a1e"/><path d="M180.0 325.5V329.5" stroke="#c41a1e" stroke-width="1.0" fill="none"/><path d="M180.0 330.0L182.5 325.5L177.5 325.5Z" fill="#c41a1e"/><path d="M185.0 327.5V331.5" stroke="#c41a1e" stroke-width="1.0" fill="none"/><path d="M185.0 332.0L187.5 327.5L182.5 327.5Z" fill="#c41a1e"/><path d="M190.0 327.5V344.5" stroke="#c41a1e" stroke-width="1.0" fill="none"/><path d="M190.0 334.0L192.5 329.5L187.5 329.5Z" fill="#c41a1e"/><path d="M197.0 327.0V345.0" stroke="#c41a1e" stroke-width="1.0" fill="none"/><path d="M197.0 336.5L199.5 332.0L194.5 332.0Z" fill="#c41a1e"/><path d="M204.0 338.5L206.5 334.0L201.5 334.0Z" fill="#c41a1e"/><path d="M208.0 339.5L210.5 335.0L205.5 335.0Z" fill="#c41a1e"/><path d="M215.0 344.5L217.5 340.0L212.5 340.0Z" fill="#c41a1e"/><path d="M219.0 347.5L221.5 343.0L216.5 343.0Z" fill="#c41a1e"/><path d="M224.0 352.5L226.5 348.0L221.5 348.0Z" fill="#c41a1e"/><path d="M229.0 351.5L231.5 347.0L226.5 347.0Z" fill="#c41a1e"/><path d="M229.0 355.5L231.5 351.0L226.5 351.0Z" fill="#c41a1e"/><path d="M236.0 357.5L238.5 353.0L233.5 353.0Z" fill="#c41a1e"/><path d="M237.0 362.5L239.5 358.0L234.5 358.0Z" fill="#c41a1e"/><path d="M241.0 360.5L243.5 356.0L238.5 356.0Z" fill="#c41a1e"/><path d="M246.0 354.0V370.0" stroke="#c41a1e" stroke-width="1.0" fill="none"/><path d="M246.0 360.5L248.5 356.0L243.5 356.0Z" fill="#c41a1e"/><path d="M248.0 367.5L250.5 363.0L245.5 363.0Z" fill="#c41a1e"/><path d="M250.0 370.5L252.5 366.0L247.5 366.0Z" fill="#c41a1e"/><path d="M257.3 360.0V381.0" stroke="#c41a1e" stroke-width="1.0" fill="none"/><path d="M257.3 370.5L259.8 366.0L254.8 366.0Z" fill="#c41a1e"/><path d="M261.5 380.0V398.0" stroke="#c41a1e" stroke-width="1.0" fill="none"/><path d="M261.5 388.5L264.0 384.0L259.0 384.0Z" fill="#c41a1e"/><path d="M260.0 375.5L262.5 371.0L257.5 371.0Z" fill="#c41a1e"/><path d="M265.0 377.5L267.5 373.0L262.5 373.0Z" fill="#c41a1e"/><path d="M270.0 379.5L272.5 375.0L267.5 375.0Z" fill="#c41a1e"/><path d="M275.0 383.5L277.5 379.0L272.5 379.0Z" fill="#c41a1e"/><path d="M280.0 387.5L282.5 383.0L277.5 383.0Z" fill="#c41a1e"/><path d="M285.0 388.5L287.5 384.0L282.5 384.0Z" fill="#c41a1e"/><path d="M290.0 391.5L292.5 387.0L287.5 387.0Z" fill="#c41a1e"/><path d="M296.0 395.5L298.5 391.0L293.5 391.0Z" fill="#c41a1e"/><path d="M300.0 397.5L302.5 393.0L297.5 393.0Z" fill="#c41a1e"/><path d="M304.0 395.5L306.5 391.0L301.5 391.0Z" fill="#c41a1e"/><path d="M310.0 398.5L312.5 394.0L307.5 394.0Z" fill="#c41a1e"/><path d="M315.0 399.5L317.5 395.0L312.5 395.0Z" fill="#c41a1e"/><path d="M320.0 397.5L322.5 393.0L317.5 393.0Z" fill="#c41a1e"/><path d="M325.0 398.5L327.5 394.0L322.5 394.0Z" fill="#c41a1e"/><path d="M330.0 400.5L332.5 396.0L327.5 396.0Z" fill="#c41a1e"/><path d="M334.0 402.5L336.5 398.0L331.5 398.0Z" fill="#c41a1e"/><path d="M337.5 410.5L340.0 406.0L335.0 406.0Z" fill="#c41a1e"/><path d="M352.0 420.5L354.5 416.0L349.5 416.0Z" fill="#c41a1e"/><path d="M353.0 429.5L355.5 425.0L350.5 425.0Z" fill="#c41a1e"/><rect x="201.2" y="331.2" width="3.6" height="3.6" fill="#d81c1c"/><rect x="213.2" y="341.2" width="3.6" height="3.6" fill="#d81c1c"/><rect x="228.2" y="349.2" width="3.6" height="3.6" fill="#d81c1c"/><rect x="242.2" y="359.2" width="3.6" height="3.6" fill="#d81c1c"/><rect x="264.2" y="374.2" width="3.6" height="3.6" fill="#d81c1c"/><rect x="280.2" y="383.2" width="3.6" height="3.6" fill="#d81c1c"/><rect x="296.2" y="392.2" width="3.6" height="3.6" fill="#d81c1c"/><rect x="311.2" y="394.2" width="3.6" height="3.6" fill="#d81c1c"/><rect x="326.2" y="395.2" width="3.6" height="3.6" fill="#d81c1c"/><rect x="343.2" y="403.2" width="3.6" height="3.6" fill="#d81c1c"/><path d="M326.0 395.0V401.0" stroke="#d41c24" stroke-width="1.0" fill="none"/><path d="M323.8 396.2L328.2 399.8M323.8 399.8L328.2 396.2M326.0 395.8V400.2" stroke="#d41c24" stroke-width="1.2" fill="none"/><path d="M331.0 397.0V405.0" stroke="#d41c24" stroke-width="1.0" fill="none"/><path d="M328.8 399.2L333.2 402.8M328.8 402.8L333.2 399.2M331.0 398.8V403.2" stroke="#d41c24" stroke-width="1.2" fill="none"/><path d="M336.0 400.0V410.0" stroke="#d41c24" stroke-width="1.0" fill="none"/><path d="M333.8 403.2L338.2 406.8M333.8 406.8L338.2 403.2M336.0 402.8V407.2" stroke="#d41c24" stroke-width="1.2" fill="none"/><path d="M345.0 407.0V419.0" stroke="#d41c24" stroke-width="1.0" fill="none"/><path d="M342.8 411.2L347.2 414.8M342.8 414.8L347.2 411.2M345.0 410.8V415.2" stroke="#d41c24" stroke-width="1.2" fill="none"/><path d="M349.0 412.0V420.0" stroke="#d41c24" stroke-width="1.0" fill="none"/><path d="M346.8 414.2L351.2 417.8M346.8 417.8L351.2 414.2M349.0 413.8V418.2" stroke="#d41c24" stroke-width="1.2" fill="none"/><path d="M193.0 323.8L195.8 318.8L190.2 318.8Z" fill="#2838c8"/><path d="M213.0 327.0V357.0" stroke="#6a3aa8" stroke-width="1.0" fill="none"/><path d="M213.0 342.2L215.2 338.3L210.8 338.3Z" fill="#6a3aa8"/><path d="M219.0 348.2L221.2 344.3L216.8 344.3Z" fill="#6a3aa8"/><path d="M224.0 345.2L226.2 341.3L221.8 341.3Z" fill="#6a3aa8"/><path d="M233.0 354.2L235.2 350.3L230.8 350.3Z" fill="#6a3aa8"/><path d="M241.0 362.2L243.2 358.3L238.8 358.3Z" fill="#6a3aa8"/><path d="M254.0 372.2L256.2 368.3L251.8 368.3Z" fill="#6a3aa8"/><path d="M228.0 349.2L230.2 345.3L225.8 345.3Z" fill="#6a3aa8"/><path d="M244.0 358.2L246.2 354.3L241.8 354.3Z" fill="#6a3aa8"/><path d="M201.2 330.6H204.8L201.2 333.4H204.8Z" fill="#1a1a96" stroke="#1a1a96" stroke-width="0.7"/><path d="M206.0 330.0V340.0" stroke="#1a1a96" stroke-width="1.0" fill="none"/><path d="M204.2 333.6H207.8L204.2 336.4H207.8Z" fill="#1a1a96" stroke="#1a1a96" stroke-width="0.7"/><path d="M221.0 338.0V355.0" stroke="#1a1a96" stroke-width="1.0" fill="none"/><path d="M219.2 343.6H222.8L219.2 346.4H222.8Z" fill="#1a1a96" stroke="#1a1a96" stroke-width="0.7"/><path d="M231.0 347.0V355.0" stroke="#1a1a96" stroke-width="1.0" fill="none"/><path d="M229.2 349.6H232.8L229.2 352.4H232.8Z" fill="#1a1a96" stroke="#1a1a96" stroke-width="0.7"/><circle cx="199.0" cy="340.0" r="2.10" fill="#f2c030"/><circle cx="209.0" cy="343.0" r="2.10" fill="#f2c030"/><path d="M214.0 344.0V356.0" stroke="#f2c030" stroke-width="1.0" fill="none"/><circle cx="214.0" cy="350.0" r="2.10" fill="#f2c030"/><path d="M268.0 375.5L270.0 378.0L268.0 380.5L266.0 378.0Z" fill="#c828d0"/><path d="M278.0 380.5L280.0 383.0L278.0 385.5L276.0 383.0Z" fill="#c828d0"/><path d="M288.0 384.5L290.0 387.0L288.0 389.5L286.0 387.0Z" fill="#c828d0"/><path d="M293.0 388.5L295.0 391.0L293.0 393.5L291.0 391.0Z" fill="#c828d0"/><path d="M302.0 391.5L304.0 394.0L302.0 396.5L300.0 394.0Z" fill="#c828d0"/><path d="M308.0 392.5L310.0 395.0L308.0 397.5L306.0 395.0Z" fill="#c828d0"/><path d="M318.0 393.5L320.0 396.0L318.0 398.5L316.0 396.0Z" fill="#c828d0"/><path d="M323.0 391.5L325.0 394.0L323.0 396.5L321.0 394.0Z" fill="#c828d0"/><path d="M333.0 396.5L335.0 399.0L333.0 401.5L331.0 399.0Z" fill="#c828d0"/><path d="M341.0 396.0V433.0" stroke="#c828d0" stroke-width="1.0" fill="none"/><path d="M341.0 402.5L343.0 405.0L341.0 407.5L339.0 405.0Z" fill="#c828d0"/><path d="M365.0 431.5L367.0 434.0L365.0 436.5L363.0 434.0Z" fill="#c828d0"/><path d="M339.0 400.0V422.0" stroke="#6a3aa8" stroke-width="1.0" fill="none"/><path d="M339.0 410.8L341.2 414.7L336.8 414.7Z" fill="#6a3aa8"/><path d="M344.0 396.0V415.0" stroke="#6a3aa8" stroke-width="1.0" fill="none"/><path d="M344.0 401.8L346.2 405.7L341.8 405.7Z" fill="#6a3aa8"/><path d="M350.0 401.8L352.2 405.7L347.8 405.7Z" fill="#6a3aa8"/><path d="M354.5 413.0V518.0" stroke="#6a3aa8" stroke-width="1.0" fill="none"/><path d="M354.5 430.8L356.7 434.7L352.3 434.7Z" fill="#6a3aa8"/><path d="M362.5 418.0V518.0" stroke="#6a3aa8" stroke-width="1.0" fill="none"/><path d="M362.5 436.8L364.7 440.7L360.3 440.7Z" fill="#6a3aa8"/><path d="M273.9 388.0H278.1M276.0 385.9V390.1" stroke="#9898cc" stroke-width="1.3" fill="none"/><path d="M289.4 385.0H293.6M291.5 382.9V387.1" stroke="#9898cc" stroke-width="1.3" fill="none"/><path d="M297.9 400.0H302.1M300.0 397.9V402.1" stroke="#9898cc" stroke-width="1.3" fill="none"/><path d="M308.9 401.0H313.1M311.0 398.9V403.1" stroke="#9898cc" stroke-width="1.3" fill="none"/><path d="M313.4 409.0H317.6M315.5 406.9V411.1" stroke="#9898cc" stroke-width="1.3" fill="none"/><path d="M317.9 403.0H322.1M320.0 400.9V405.1" stroke="#9898cc" stroke-width="1.3" fill="none"/><path d="M330.3 397.0V405.0" stroke="#9898cc" stroke-width="1.0" fill="none"/><path d="M328.2 401.0H332.4M330.3 398.9V403.1" stroke="#9898cc" stroke-width="1.3" fill="none"/><path d="M354.0 398.0V415.0" stroke="#9898cc" stroke-width="1.0" fill="none"/><path d="M351.9 408.0H356.1M354.0 405.9V410.1" stroke="#9898cc" stroke-width="1.3" fill="none"/><path d="M357.5 388.0V420.0" stroke="#9898cc" stroke-width="1.0" fill="none"/><path d="M355.4 399.0H359.6M357.5 396.9V401.1" stroke="#9898cc" stroke-width="1.3" fill="none"/><path d="M368.7 391.0V518.0" stroke="#9898cc" stroke-width="1.0" fill="none"/><path d="M366.6 407.0H370.8M368.7 404.9V409.1" stroke="#9898cc" stroke-width="1.3" fill="none"/><path d="M328.3 392.0V415.0" stroke="#6a3aa8" stroke-width="1.1" fill="none"/><path d="M350.0 413.4L354.0 416.6M350.0 416.6L354.0 413.4M352.0 413.0V417.0" stroke="#d41c24" stroke-width="1.2" fill="none"/><path d="M356.0 417.4L360.0 420.6M356.0 420.6L360.0 417.4M358.0 417.0V421.0" stroke="#d41c24" stroke-width="1.2" fill="none"/><path d="M360.0 466.0V472.0" stroke="#d41c24" stroke-width="1.0" fill="none"/><path d="M358.0 467.4L362.0 470.6M358.0 470.6L362.0 467.4M360.0 467.0V471.0" stroke="#d41c24" stroke-width="1.2" fill="none"/><path d="M365.0 469.0V475.0" stroke="#d41c24" stroke-width="1.0" fill="none"/><path d="M363.0 470.4L367.0 473.6M363.0 473.6L367.0 470.4M365.0 470.0V474.0" stroke="#d41c24" stroke-width="1.2" fill="none"/><path d="M369.0 476.0V518.0" stroke="#d41c24" stroke-width="1.0" fill="none"/><path d="M367.0 478.4L371.0 481.6M367.0 481.6L371.0 478.4M369.0 478.0V482.0" stroke="#d41c24" stroke-width="1.2" fill="none"/><path d="M374.0 462.0V473.0" stroke="#d41c24" stroke-width="1.0" fill="none"/><path d="M372.0 465.4L376.0 468.6M372.0 468.6L376.0 465.4M374.0 465.0V469.0" stroke="#d41c24" stroke-width="1.2" fill="none"/><path d="M380.0 479.0V485.0" stroke="#d41c24" stroke-width="1.0" fill="none"/><path d="M378.0 480.4L382.0 483.6M378.0 483.6L382.0 480.4M380.0 480.0V484.0" stroke="#d41c24" stroke-width="1.2" fill="none"/><path d="M385.0 491.0V497.0" stroke="#d41c24" stroke-width="1.0" fill="none"/><path d="M383.0 492.4L387.0 495.6M383.0 495.6L387.0 492.4M385.0 492.0V496.0" stroke="#d41c24" stroke-width="1.2" fill="none"/><path d="M385.0 499.0V509.0" stroke="#d41c24" stroke-width="1.0" fill="none"/><path d="M383.0 501.4L387.0 504.6M383.0 504.6L387.0 501.4M385.0 501.0V505.0" stroke="#d41c24" stroke-width="1.2" fill="none"/><path d="M370.0 455.0V518.0" stroke="#c41a1e" stroke-width="1.0" fill="none"/><path d="M365.0 440.0V518.0" stroke="#d81c1c" stroke-width="1.0" fill="none"/></g>
<g><path d="M364.5 184.0V247.0" stroke="#c84060" stroke-width="1.0" fill="none"/><path d="M351.7 140.0V247.0" stroke="#b070c8" stroke-width="1.0" fill="none"/><path d="M354.6 140.0V247.0" stroke="#9898cc" stroke-width="1.0" fill="none"/><path d="M359.3 185.0V247.0" stroke="#d87070" stroke-width="1.0" fill="none"/><path d="M375.2 140.0V247.0" stroke="#9898cc" stroke-width="1.0" fill="none"/></g>
<g><path d="M43 14.5H388.3" stroke="#707070" stroke-width="1.2"/><path d="M43 247.2H388.3" stroke="#333" stroke-width="1.3"/><path d="M388.3 14.5V247.2" stroke="#111" stroke-width="1.4"/><path d="M59.2 247.2v-3M59.2 14.5v3" stroke="#222" stroke-width="1"/><path d="M68.3 247.2v-3M68.3 14.5v3" stroke="#666" stroke-width="1"/><path d="M74.8 247.2v-3M74.8 14.5v3" stroke="#666" stroke-width="1"/><path d="M79.8 247.2v-3M79.8 14.5v3" stroke="#222" stroke-width="1"/><path d="M84.0 247.2v-3M84.0 14.5v3" stroke="#666" stroke-width="1"/><path d="M87.4 247.2v-3M87.4 14.5v3" stroke="#666" stroke-width="1"/><path d="M90.5 247.2v-3M90.5 14.5v3" stroke="#222" stroke-width="1"/><path d="M93.1 247.2v-3M93.1 14.5v3" stroke="#222" stroke-width="1"/><path d="M111.2 247.2v-3M111.2 14.5v3" stroke="#222" stroke-width="1"/><path d="M120.3 247.2v-3M120.3 14.5v3" stroke="#666" stroke-width="1"/><path d="M126.8 247.2v-3M126.8 14.5v3" stroke="#666" stroke-width="1"/><path d="M131.8 247.2v-3M131.8 14.5v3" stroke="#222" stroke-width="1"/><path d="M136.0 247.2v-3M136.0 14.5v3" stroke="#666" stroke-width="1"/><path d="M139.4 247.2v-3M139.4 14.5v3" stroke="#666" stroke-width="1"/><path d="M142.5 247.2v-3M142.5 14.5v3" stroke="#222" stroke-width="1"/><path d="M145.1 247.2v-3M145.1 14.5v3" stroke="#222" stroke-width="1"/><path d="M147.5 247.2v-7M147.5 14.5v7" stroke="#222" stroke-width="1"/><path d="M163.2 247.2v-3M163.2 14.5v3" stroke="#222" stroke-width="1"/><path d="M172.3 247.2v-3M172.3 14.5v3" stroke="#666" stroke-width="1"/><path d="M178.8 247.2v-3M178.8 14.5v3" stroke="#666" stroke-width="1"/><path d="M183.8 247.2v-3M183.8 14.5v3" stroke="#222" stroke-width="1"/><path d="M188.0 247.2v-3M188.0 14.5v3" stroke="#666" stroke-width="1"/><path d="M191.4 247.2v-3M191.4 14.5v3" stroke="#666" stroke-width="1"/><path d="M194.5 247.2v-3M194.5 14.5v3" stroke="#222" stroke-width="1"/><path d="M197.1 247.2v-3M197.1 14.5v3" stroke="#222" stroke-width="1"/><path d="M199.5 247.2v-7M199.5 14.5v7" stroke="#222" stroke-width="1"/><path d="M215.2 247.2v-3M215.2 14.5v3" stroke="#222" stroke-width="1"/><path d="M224.3 247.2v-3M224.3 14.5v3" stroke="#666" stroke-width="1"/><path d="M230.8 247.2v-3M230.8 14.5v3" stroke="#666" stroke-width="1"/><path d="M235.8 247.2v-3M235.8 14.5v3" stroke="#222" stroke-width="1"/><path d="M240.0 247.2v-3M240.0 14.5v3" stroke="#666" stroke-width="1"/><path d="M243.4 247.2v-3M243.4 14.5v3" stroke="#666" stroke-width="1"/><path d="M246.5 247.2v-3M246.5 14.5v3" stroke="#222" stroke-width="1"/><path d="M249.1 247.2v-3M249.1 14.5v3" stroke="#222" stroke-width="1"/><path d="M251.5 247.2v-7M251.5 14.5v7" stroke="#222" stroke-width="1"/><path d="M267.2 247.2v-3M267.2 14.5v3" stroke="#222" stroke-width="1"/><path d="M276.3 247.2v-3M276.3 14.5v3" stroke="#666" stroke-width="1"/><path d="M282.8 247.2v-3M282.8 14.5v3" stroke="#666" stroke-width="1"/><path d="M287.8 247.2v-3M287.8 14.5v3" stroke="#222" stroke-width="1"/><path d="M292.0 247.2v-3M292.0 14.5v3" stroke="#666" stroke-width="1"/><path d="M295.4 247.2v-3M295.4 14.5v3" stroke="#666" stroke-width="1"/><path d="M298.5 247.2v-3M298.5 14.5v3" stroke="#222" stroke-width="1"/><path d="M301.1 247.2v-3M301.1 14.5v3" stroke="#222" stroke-width="1"/><path d="M303.5 247.2v-7M303.5 14.5v7" stroke="#222" stroke-width="1"/><path d="M319.2 247.2v-3M319.2 14.5v3" stroke="#222" stroke-width="1"/><path d="M328.3 247.2v-3M328.3 14.5v3" stroke="#666" stroke-width="1"/><path d="M334.8 247.2v-3M334.8 14.5v3" stroke="#666" stroke-width="1"/><path d="M339.8 247.2v-3M339.8 14.5v3" stroke="#222" stroke-width="1"/><path d="M344.0 247.2v-3M344.0 14.5v3" stroke="#666" stroke-width="1"/><path d="M347.4 247.2v-3M347.4 14.5v3" stroke="#666" stroke-width="1"/><path d="M350.5 247.2v-3M350.5 14.5v3" stroke="#222" stroke-width="1"/><path d="M353.1 247.2v-3M353.1 14.5v3" stroke="#222" stroke-width="1"/><path d="M355.5 247.2v-7M355.5 14.5v7" stroke="#222" stroke-width="1"/><path d="M371.2 247.2v-3M371.2 14.5v3" stroke="#222" stroke-width="1"/><path d="M380.3 247.2v-3M380.3 14.5v3" stroke="#666" stroke-width="1"/><path d="M43 30.4h11M388.3 30.4h-11" stroke="#111" stroke-width="1.2"/><path d="M43 33.0h5.5M388.3 33.0h-5.5" stroke="#888" stroke-width="1"/><path d="M43 42.7h5.5M388.3 42.7h-5.5" stroke="#111" stroke-width="1.1"/><path d="M43 68.2h5.5M388.3 68.2h-5.5" stroke="#111" stroke-width="1.1"/><path d="M43 90.3h5.5M388.3 90.3h-5.5" stroke="#888" stroke-width="1"/><path d="M43 101.1h5.5M388.3 101.1h-5.5" stroke="#111" stroke-width="1.1"/><path d="M43 106.2h5.5M388.3 106.2h-5.5" stroke="#111" stroke-width="1.1"/><path d="M43 113.3h5.5M388.3 113.3h-5.5" stroke="#888" stroke-width="1"/><path d="M43 122.2h5.5M388.3 122.2h-5.5" stroke="#111" stroke-width="1.1"/><path d="M43 140.5h5.5M388.3 140.5h-5.5" stroke="#111" stroke-width="1.1"/><path d="M43 146.9h5.5M388.3 146.9h-5.5" stroke="#111" stroke-width="1.1"/><path d="M43 153.6h5.5M388.3 153.6h-5.5" stroke="#111" stroke-width="1.1"/><path d="M43 159.4h5.5M388.3 159.4h-5.5" stroke="#111" stroke-width="1.1"/><path d="M43 193.3h11M388.3 193.3h-11" stroke="#111" stroke-width="1.2"/><path d="M43 201.0h5.5M388.3 201.0h-5.5" stroke="#111" stroke-width="1.1"/><path d="M43 204.4h5.5M388.3 204.4h-5.5" stroke="#888" stroke-width="1"/><path d="M43 214.5h5.5M388.3 214.5h-5.5" stroke="#111" stroke-width="1.1"/><path d="M43 220.8h5.5M388.3 220.8h-5.5" stroke="#888" stroke-width="1"/><circle cx="81.3" cy="91.2" r="1.60" fill="#111"/><text x="98.7" y="93.5" font-size="6.6" font-weight="bold" fill="#222" textLength="24" lengthAdjust="spacingAndGlyphs">HEGRA</text><path d="M70 102.5H93" stroke="#9a9a70" stroke-width="1.1" opacity="0.85"/><circle cx="81.3" cy="102.5" r="1.60" fill="#8a8a38"/><text x="98.7" y="104.8" font-size="6.6" font-weight="bold" fill="#222" textLength="29" lengthAdjust="spacingAndGlyphs">Casa-Mia</text><path d="M70 113.8H93" stroke="#e8d050" stroke-width="1.1" opacity="0.85"/><circle cx="81.3" cy="113.8" r="1.60" fill="#f2c030"/><text x="98.7" y="116.1" font-size="6.6" font-weight="bold" fill="#222" textLength="40" lengthAdjust="spacingAndGlyphs">Tibet III 2008</text><path d="M81.3 123.2L83.1 126.5L79.5 126.5Z" fill="#8e1a1a"/><text x="98.7" y="127.4" font-size="6.6" font-weight="bold" fill="#222" textLength="44" lengthAdjust="spacingAndGlyphs">Kascade 2005</text><path d="M70 136.4H93" stroke="#8a2020" stroke-width="1.1" opacity="0.85"/><path d="M81.3 138.2L83.1 134.9L79.5 134.9Z" fill="#c41a1e"/><text x="98.7" y="138.7" font-size="6.6" font-weight="bold" fill="#222" textLength="71" lengthAdjust="spacingAndGlyphs">Kascade-Grande 2012</text><path d="M70 147.7H93" stroke="#70c070" stroke-width="1.1" opacity="0.85"/><path d="M79.7 147.7H82.9M81.3 146.1V149.2M80.1 146.5L82.5 148.8M80.1 148.8L82.5 146.5" stroke="#60c060" stroke-width="1.0" fill="none"/><text x="98.7" y="150.0" font-size="6.6" font-weight="bold" fill="#222" textLength="30" lengthAdjust="spacingAndGlyphs">IceTop 26</text><path d="M70 158.9H93" stroke="#4a58c8" stroke-width="1.1" opacity="0.85"/><path d="M81.3 156.9L82.9 158.9L81.3 160.9L79.7 158.9Z" fill="#1a1a96"/><text x="98.7" y="161.2" font-size="6.6" font-weight="bold" fill="#222" textLength="42" lengthAdjust="spacingAndGlyphs">GAMMA 2008</text><path d="M70 170.2H93" stroke="#c82020" stroke-width="1.1" opacity="0.85"/><rect x="79.7" y="168.6" width="3.2" height="3.2" fill="#d81c1c"/><text x="98.7" y="172.5" font-size="6.6" font-weight="bold" fill="#222" textLength="49" lengthAdjust="spacingAndGlyphs">Tunka 133 2011</text><path d="M70 181.5H93" stroke="#a8a8d0" stroke-width="1.1" opacity="0.85"/><path d="M79.7 181.5H82.9M81.3 179.9V183.1" stroke="#9898cc" stroke-width="1.3" fill="none"/><text x="98.7" y="183.8" font-size="6.6" font-weight="bold" fill="#222" textLength="24" lengthAdjust="spacingAndGlyphs">AGASA</text><path d="M70 192.8H93" stroke="#7048a8" stroke-width="1.1" opacity="0.85"/><path d="M81.3 191.0L83.1 194.2L79.5 194.2Z" fill="#6a3aa8"/><text x="98.7" y="195.1" font-size="6.6" font-weight="bold" fill="#222" textLength="23" lengthAdjust="spacingAndGlyphs">HiRes 1</text><path d="M70 204.1H93" stroke="#a890d0" stroke-width="1.1" opacity="0.85"/><path d="M81.3 205.9L83.1 202.7L79.5 202.7Z" fill="#9c78d0"/><text x="98.7" y="206.4" font-size="6.6" font-weight="bold" fill="#222" textLength="24" lengthAdjust="spacingAndGlyphs">HiRes 2</text><path d="M70 215.4H93" stroke="#c030c8" stroke-width="1.1" opacity="0.85"/><path d="M81.3 213.4L82.9 215.4L81.3 217.4L79.7 215.4Z" fill="#c828d0"/><text x="98.7" y="217.7" font-size="6.6" font-weight="bold" fill="#222" textLength="23.5" lengthAdjust="spacingAndGlyphs">TA 2011</text><path d="M79.0 224.8L83.6 228.5M79.0 228.5L83.6 224.8M81.3 224.4V229.0" stroke="#b02030" stroke-width="1.2" fill="none"/><text x="98.7" y="229.0" font-size="6.6" font-weight="bold" fill="#222" textLength="35" lengthAdjust="spacingAndGlyphs">Auger 2011</text><text x="39.0" y="34.0" font-size="9.2" text-anchor="end" fill="#111">10<tspan font-size="5.7" dy="-4">4</tspan></text><text x="39.0" y="88.5" font-size="9.2" text-anchor="end" fill="#111">10<tspan font-size="5.7" dy="-4">3</tspan></text><text x="39.0" y="142.5" font-size="9.2" text-anchor="end" fill="#111">10<tspan font-size="5.7" dy="-4">2</tspan></text><text x="39.5" y="196.5" font-size="9.2" text-anchor="end" fill="#111" >10</text><text x="39.5" y="250.7" font-size="9.2" text-anchor="end" fill="#111" >1</text><text x="94.5" y="260.0" font-size="9.2" text-anchor="middle" fill="#111">10<tspan font-size="5.7" dy="-4">6</tspan></text><text x="146.5" y="260.0" font-size="9.2" text-anchor="middle" fill="#111">10<tspan font-size="5.7" dy="-4">7</tspan></text><text x="198.5" y="260.0" font-size="9.2" text-anchor="middle" fill="#111">10<tspan font-size="5.7" dy="-4">8</tspan></text><text x="250.5" y="260.0" font-size="9.2" text-anchor="middle" fill="#111">10<tspan font-size="5.7" dy="-4">9</tspan></text><text x="302.5" y="260.0" font-size="9.2" text-anchor="middle" fill="#111">10<tspan font-size="5.7" dy="-4">10</tspan></text><text x="354.5" y="260.0" font-size="9.2" text-anchor="middle" fill="#111">10<tspan font-size="5.7" dy="-4">11</tspan></text><text x="162.3" y="269.4" font-size="9.2" text-anchor="start" fill="#111" textLength="106" lengthAdjust="spacing">Primary Energy,  E [GeV]</text><text transform="translate(22 197.8) rotate(-90)" font-size="9.4" textLength="135" lengthAdjust="spacing" fill="#111">E<tspan font-size="6" dy="-3.9">2.6</tspan><tspan dy="3.9"> Γ dN/dE  [GeV</tspan><tspan font-size="6" dy="-3.9">1.6</tspan><tspan dy="3.9"> m</tspan><tspan font-size="6" dy="-3.9">-2</tspan><tspan dy="3.9"> sr</tspan><tspan font-size="6" dy="-3.9">-1</tspan><tspan dy="3.9"> s</tspan><tspan font-size="6" dy="-3.9">-1</tspan><tspan dy="3.9">]</tspan></text><path d="M43.7 285.3H388.5" stroke="#707070" stroke-width="1.2"/><path d="M43.7 518.3H388.5" stroke="#333" stroke-width="1.3"/><path d="M388.5 285.3V518.3" stroke="#111" stroke-width="1.4"/><path d="M43.7 285.3V518.3" stroke="#333" stroke-width="1.2"/><path d="M59.2 518.3v-3M59.2 285.3v3" stroke="#222" stroke-width="1"/><path d="M68.4 518.3v-3M68.4 285.3v3" stroke="#666" stroke-width="1"/><path d="M74.8 518.3v-3M74.8 285.3v3" stroke="#666" stroke-width="1"/><path d="M79.9 518.3v-3M79.9 285.3v3" stroke="#222" stroke-width="1"/><path d="M84.0 518.3v-3M84.0 285.3v3" stroke="#666" stroke-width="1"/><path d="M87.5 518.3v-3M87.5 285.3v3" stroke="#666" stroke-width="1"/><path d="M90.5 518.3v-3M90.5 285.3v3" stroke="#222" stroke-width="1"/><path d="M93.1 518.3v-3M93.1 285.3v3" stroke="#222" stroke-width="1"/><path d="M95.5 518.3v-7M95.5 285.3v7" stroke="#222" stroke-width="1"/><path d="M111.1 518.3v-3M111.1 285.3v3" stroke="#222" stroke-width="1"/><path d="M120.3 518.3v-3M120.3 285.3v3" stroke="#666" stroke-width="1"/><path d="M126.7 518.3v-3M126.7 285.3v3" stroke="#666" stroke-width="1"/><path d="M131.8 518.3v-3M131.8 285.3v3" stroke="#222" stroke-width="1"/><path d="M135.9 518.3v-3M135.9 285.3v3" stroke="#666" stroke-width="1"/><path d="M139.4 518.3v-3M139.4 285.3v3" stroke="#666" stroke-width="1"/><path d="M142.4 518.3v-3M142.4 285.3v3" stroke="#222" stroke-width="1"/><path d="M145.0 518.3v-3M145.0 285.3v3" stroke="#222" stroke-width="1"/><path d="M147.4 518.3v-7M147.4 285.3v7" stroke="#222" stroke-width="1"/><path d="M163.0 518.3v-3M163.0 285.3v3" stroke="#222" stroke-width="1"/><path d="M172.2 518.3v-3M172.2 285.3v3" stroke="#666" stroke-width="1"/><path d="M178.6 518.3v-3M178.6 285.3v3" stroke="#666" stroke-width="1"/><path d="M183.7 518.3v-3M183.7 285.3v3" stroke="#222" stroke-width="1"/><path d="M187.8 518.3v-3M187.8 285.3v3" stroke="#666" stroke-width="1"/><path d="M191.3 518.3v-3M191.3 285.3v3" stroke="#666" stroke-width="1"/><path d="M194.3 518.3v-3M194.3 285.3v3" stroke="#222" stroke-width="1"/><path d="M196.9 518.3v-3M196.9 285.3v3" stroke="#222" stroke-width="1"/><path d="M199.3 518.3v-7M199.3 285.3v7" stroke="#222" stroke-width="1"/><path d="M214.9 518.3v-3M214.9 285.3v3" stroke="#222" stroke-width="1"/><path d="M224.1 518.3v-3M224.1 285.3v3" stroke="#666" stroke-width="1"/><path d="M230.5 518.3v-3M230.5 285.3v3" stroke="#666" stroke-width="1"/><path d="M235.6 518.3v-3M235.6 285.3v3" stroke="#222" stroke-width="1"/><path d="M239.7 518.3v-3M239.7 285.3v3" stroke="#666" stroke-width="1"/><path d="M243.2 518.3v-3M243.2 285.3v3" stroke="#666" stroke-width="1"/><path d="M246.2 518.3v-3M246.2 285.3v3" stroke="#222" stroke-width="1"/><path d="M248.8 518.3v-3M248.8 285.3v3" stroke="#222" stroke-width="1"/><path d="M251.2 518.3v-7M251.2 285.3v7" stroke="#222" stroke-width="1"/><path d="M266.8 518.3v-3M266.8 285.3v3" stroke="#222" stroke-width="1"/><path d="M276.0 518.3v-3M276.0 285.3v3" stroke="#666" stroke-width="1"/><path d="M282.4 518.3v-3M282.4 285.3v3" stroke="#666" stroke-width="1"/><path d="M287.5 518.3v-3M287.5 285.3v3" stroke="#222" stroke-width="1"/><path d="M291.6 518.3v-3M291.6 285.3v3" stroke="#666" stroke-width="1"/><path d="M295.1 518.3v-3M295.1 285.3v3" stroke="#666" stroke-width="1"/><path d="M298.1 518.3v-3M298.1 285.3v3" stroke="#222" stroke-width="1"/><path d="M300.7 518.3v-3M300.7 285.3v3" stroke="#222" stroke-width="1"/><path d="M303.1 518.3v-7M303.1 285.3v7" stroke="#222" stroke-width="1"/><path d="M318.7 518.3v-3M318.7 285.3v3" stroke="#222" stroke-width="1"/><path d="M327.9 518.3v-3M327.9 285.3v3" stroke="#666" stroke-width="1"/><path d="M334.3 518.3v-3M334.3 285.3v3" stroke="#666" stroke-width="1"/><path d="M339.4 518.3v-3M339.4 285.3v3" stroke="#222" stroke-width="1"/><path d="M343.5 518.3v-3M343.5 285.3v3" stroke="#666" stroke-width="1"/><path d="M347.0 518.3v-3M347.0 285.3v3" stroke="#666" stroke-width="1"/><path d="M350.0 518.3v-3M350.0 285.3v3" stroke="#222" stroke-width="1"/><path d="M352.6 518.3v-3M352.6 285.3v3" stroke="#222" stroke-width="1"/><path d="M355.0 518.3v-7M355.0 285.3v7" stroke="#222" stroke-width="1"/><path d="M370.6 518.3v-3M370.6 285.3v3" stroke="#222" stroke-width="1"/><path d="M379.8 518.3v-3M379.8 285.3v3" stroke="#666" stroke-width="1"/><path d="M386.2 518.3v-3M386.2 285.3v3" stroke="#666" stroke-width="1"/><path d="M43.7 301.3h11M388.5 301.3h-11" stroke="#111" stroke-width="1.2"/><path d="M43.7 304.6h5.5M388.5 304.6h-5.5" stroke="#111" stroke-width="1.1"/><path d="M43.7 306.6h5.5M388.5 306.6h-5.5" stroke="#111" stroke-width="1.1"/><path d="M43.7 312.8h5.5M388.5 312.8h-5.5" stroke="#111" stroke-width="1.1"/><path d="M43.7 323.9h5.5M388.5 323.9h-5.5" stroke="#111" stroke-width="1.1"/><path d="M43.7 339.4h5.5M388.5 339.4h-5.5" stroke="#888" stroke-width="1"/><path d="M43.7 358.3h5.5M388.5 358.3h-5.5" stroke="#111" stroke-width="1.1"/><path d="M43.7 361.7h5.5M388.5 361.7h-5.5" stroke="#111" stroke-width="1.1"/><path d="M43.7 372.8h5.5M388.5 372.8h-5.5" stroke="#111" stroke-width="1.1"/><path d="M43.7 381.7h5.5M388.5 381.7h-5.5" stroke="#111" stroke-width="1.1"/><path d="M43.7 393.9h5.5M388.5 393.9h-5.5" stroke="#111" stroke-width="1.1"/><path d="M43.7 415.6h5.5M388.5 415.6h-5.5" stroke="#111" stroke-width="1.1"/><path d="M43.7 417.8h5.5M388.5 417.8h-5.5" stroke="#111" stroke-width="1.1"/><path d="M43.7 426.7h5.5M388.5 426.7h-5.5" stroke="#111" stroke-width="1.1"/><path d="M43.7 431.1h5.5M388.5 431.1h-5.5" stroke="#888" stroke-width="1"/><path d="M43.7 438.4h5.5M388.5 438.4h-5.5" stroke="#111" stroke-width="1.1"/><path d="M43.7 448.4h5.5M388.5 448.4h-5.5" stroke="#888" stroke-width="1"/><path d="M43.7 464.4h11M388.5 464.4h-11" stroke="#111" stroke-width="1.2"/><path d="M43.7 466.7h5.5M388.5 466.7h-5.5" stroke="#111" stroke-width="1.1"/><path d="M43.7 469.3h5.5M388.5 469.3h-5.5" stroke="#111" stroke-width="1.1"/><path d="M43.7 472.9h5.5M388.5 472.9h-5.5" stroke="#111" stroke-width="1.1"/><path d="M43.7 476.7h5.5M388.5 476.7h-5.5" stroke="#111" stroke-width="1.1"/><path d="M43.7 479.6h5.5M388.5 479.6h-5.5" stroke="#111" stroke-width="1.1"/><path d="M43.7 491.6h5.5M388.5 491.6h-5.5" stroke="#111" stroke-width="1.1"/><circle cx="81.3" cy="361.7" r="1.60" fill="#111"/><text x="98.7" y="364.0" font-size="6.6" font-weight="bold" fill="#222" textLength="44" lengthAdjust="spacingAndGlyphs">HEGRA (0.9*E)</text><path d="M70 373.0H93" stroke="#9a9a70" stroke-width="1.1" opacity="0.85"/><path d="M81.3 371.0L82.9 373.0L81.3 375.0L79.7 373.0Z" fill="#8a8a38"/><text x="98.7" y="375.3" font-size="6.6" font-weight="bold" fill="#222" textLength="49" lengthAdjust="spacingAndGlyphs">Casa-Mia (1.2*E)</text><path d="M70 384.3H93" stroke="#e8d050" stroke-width="1.1" opacity="0.85"/><circle cx="81.3" cy="384.3" r="1.60" fill="#f2c030"/><text x="98.7" y="386.6" font-size="6.6" font-weight="bold" fill="#222" textLength="64" lengthAdjust="spacingAndGlyphs">Tibet III 2008 (1.05*E)</text><path d="M81.3 393.7L83.1 397.0L79.5 397.0Z" fill="#8e1a1a"/><text x="98.7" y="397.9" font-size="6.6" font-weight="bold" fill="#222" textLength="68" lengthAdjust="spacingAndGlyphs">Kascade 2005 (0.95*E)</text><path d="M70 406.9H93" stroke="#8a2020" stroke-width="1.1" opacity="0.85"/><path d="M81.3 408.7L83.1 405.4L79.5 405.4Z" fill="#c41a1e"/><text x="98.7" y="409.2" font-size="6.6" font-weight="bold" fill="#222" textLength="92" lengthAdjust="spacingAndGlyphs">Kascade-Grande 2012 (1.05*E)</text><path d="M70 418.1H93" stroke="#70c070" stroke-width="1.1" opacity="0.85"/><path d="M79.7 418.1H82.9M81.3 416.5V419.8M80.1 416.9L82.5 419.3M80.1 419.3L82.5 416.9" stroke="#60c060" stroke-width="1.0" fill="none"/><text x="98.7" y="420.4" font-size="6.6" font-weight="bold" fill="#222" textLength="54" lengthAdjust="spacingAndGlyphs">IceTop-26 (0.95*E)</text><path d="M70 429.4H93" stroke="#4a58c8" stroke-width="1.1" opacity="0.85"/><path d="M81.3 427.4L82.9 429.4L81.3 431.4L79.7 429.4Z" fill="#1a1a96"/><text x="98.7" y="431.7" font-size="6.6" font-weight="bold" fill="#222" textLength="40" lengthAdjust="spacingAndGlyphs">GAMMA 2008</text><path d="M70 440.7H93" stroke="#c82020" stroke-width="1.1" opacity="0.85"/><rect x="79.7" y="439.1" width="3.2" height="3.2" fill="#d81c1c"/><text x="98.7" y="443.0" font-size="6.6" font-weight="bold" fill="#222" textLength="47" lengthAdjust="spacingAndGlyphs">Tunka-133 2011</text><path d="M70 452.0H93" stroke="#a8a8d0" stroke-width="1.1" opacity="0.85"/><path d="M79.7 452.0H82.9M81.3 450.4V453.6" stroke="#9898cc" stroke-width="1.3" fill="none"/><text x="98.7" y="454.3" font-size="6.6" font-weight="bold" fill="#222" textLength="44.6" lengthAdjust="spacingAndGlyphs">AGASA (0.7*E)</text><path d="M70 463.3H93" stroke="#7048a8" stroke-width="1.1" opacity="0.85"/><path d="M81.3 461.5L83.1 464.7L79.5 464.7Z" fill="#6a3aa8"/><text x="98.7" y="465.6" font-size="6.6" font-weight="bold" fill="#222" textLength="22" lengthAdjust="spacingAndGlyphs">HiRes 1</text><path d="M70 474.6H93" stroke="#a890d0" stroke-width="1.1" opacity="0.85"/><path d="M81.3 476.4L83.1 473.2L79.5 473.2Z" fill="#9c78d0"/><text x="98.7" y="476.9" font-size="6.6" font-weight="bold" fill="#222" textLength="23.3" lengthAdjust="spacingAndGlyphs">HiRes 2</text><path d="M70 485.9H93" stroke="#c030c8" stroke-width="1.1" opacity="0.85"/><path d="M81.3 483.9L82.9 485.9L81.3 487.9L79.7 485.9Z" fill="#c828d0"/><text x="98.7" y="488.2" font-size="6.6" font-weight="bold" fill="#222" textLength="22" lengthAdjust="spacingAndGlyphs">TA 2011</text><path d="M79.0 495.3L83.6 499.0M79.0 499.0L83.6 495.3M81.3 494.9V499.5" stroke="#b02030" stroke-width="1.2" fill="none"/><text x="98.7" y="499.5" font-size="6.6" font-weight="bold" fill="#222" textLength="59.4" lengthAdjust="spacingAndGlyphs">Auger 2011 (1.22*E)</text><text x="39.0" y="305.0" font-size="9.2" text-anchor="end" fill="#111">10<tspan font-size="5.7" dy="-4">4</tspan></text><text x="39.0" y="359.0" font-size="9.2" text-anchor="end" fill="#111">10<tspan font-size="5.7" dy="-4">3</tspan></text><text x="39.0" y="413.0" font-size="9.2" text-anchor="end" fill="#111">10<tspan font-size="5.7" dy="-4">2</tspan></text><text x="39.5" y="467.5" font-size="9.2" text-anchor="end" fill="#111" >10</text><text x="39.5" y="521.7" font-size="9.2" text-anchor="end" fill="#111" >1</text><text x="94.5" y="531.0" font-size="9.2" text-anchor="middle" fill="#111">10<tspan font-size="5.7" dy="-4">6</tspan></text><text x="146.4" y="531.0" font-size="9.2" text-anchor="middle" fill="#111">10<tspan font-size="5.7" dy="-4">7</tspan></text><text x="198.3" y="531.0" font-size="9.2" text-anchor="middle" fill="#111">10<tspan font-size="5.7" dy="-4">8</tspan></text><text x="250.2" y="531.0" font-size="9.2" text-anchor="middle" fill="#111">10<tspan font-size="5.7" dy="-4">9</tspan></text><text x="302.1" y="531.0" font-size="9.2" text-anchor="middle" fill="#111">10<tspan font-size="5.7" dy="-4">10</tspan></text><text x="354.0" y="531.0" font-size="9.2" text-anchor="middle" fill="#111">10<tspan font-size="5.7" dy="-4">11</tspan></text><text x="168.6" y="538.0" font-size="9.2" text-anchor="start" fill="#111" textLength="95" lengthAdjust="spacing">Primary Energy [GeV]</text><text transform="translate(22 462) rotate(-90)" font-size="9.4" textLength="119.5" lengthAdjust="spacing" fill="#111">E<tspan font-size="6" dy="-3.9">2.6</tspan><tspan dy="3.9"> × J(E)  [GeV</tspan><tspan font-size="6" dy="-3.9">1.6</tspan><tspan dy="3.9"> m</tspan><tspan font-size="6" dy="-3.9">-2</tspan><tspan dy="3.9"> sr</tspan><tspan font-size="6" dy="-3.9">-1</tspan><tspan dy="3.9"> s</tspan><tspan font-size="6" dy="-3.9">-1</tspan><tspan dy="3.9">]</tspan></text></g>
<g fill="#000" stroke="#000" stroke-width="0.1">
<text x="466.4" y="37.8" font-size="15.3" textLength="151.8" lengthAdjust="spacing">All Particle Spectrum</text>
<text x="438.4" y="58.7" font-size="15.3" textLength="215.4" lengthAdjust="spacing">from Air Shower Experiments</text>
<text x="398.2" y="106.8" font-size="16" textLength="298.8" lengthAdjust="spacing">selection based on variety of techniques:</text>
<text x="470.0" y="125.7" font-size="14" textLength="68.6" lengthAdjust="spacing">cherenkov</text>
<text x="470.0" y="145.9" font-size="14" textLength="83.1" lengthAdjust="spacing">fluorescence</text>
<text x="470.0" y="165" font-size="14" textLength="76.2" lengthAdjust="spacing">scintillators</text>
<text x="470.0" y="183.6" font-size="14" textLength="100.2" lengthAdjust="spacing">muon counters</text>
<text x="431.9" y="311.8" font-size="15.3" textLength="263.2" lengthAdjust="spacing">Gaisser’s cross-calibrated spectrum:</text>
<text x="431.9" y="354.8" font-size="15.3" textLength="198.3" lengthAdjust="spacing" xml:space="preserve">5-20%  energy shift to align</text>
<text x="431.9" y="376.3" font-size="15.3" textLength="180.1" lengthAdjust="spacing">features in the spectrum</text>
<text x="415.4" y="441.4" font-size="13" textLength="281.8" lengthAdjust="spacing">arXiv:1303.3565 [astro-ph.HE] 14 Mar 2013</text>
<text x="415.4" y="459.4" font-size="13" textLength="139.8" lengthAdjust="spacing">Gaisser , Stanev ,Tilav</text>
</g>
</svg>
</body></html>
